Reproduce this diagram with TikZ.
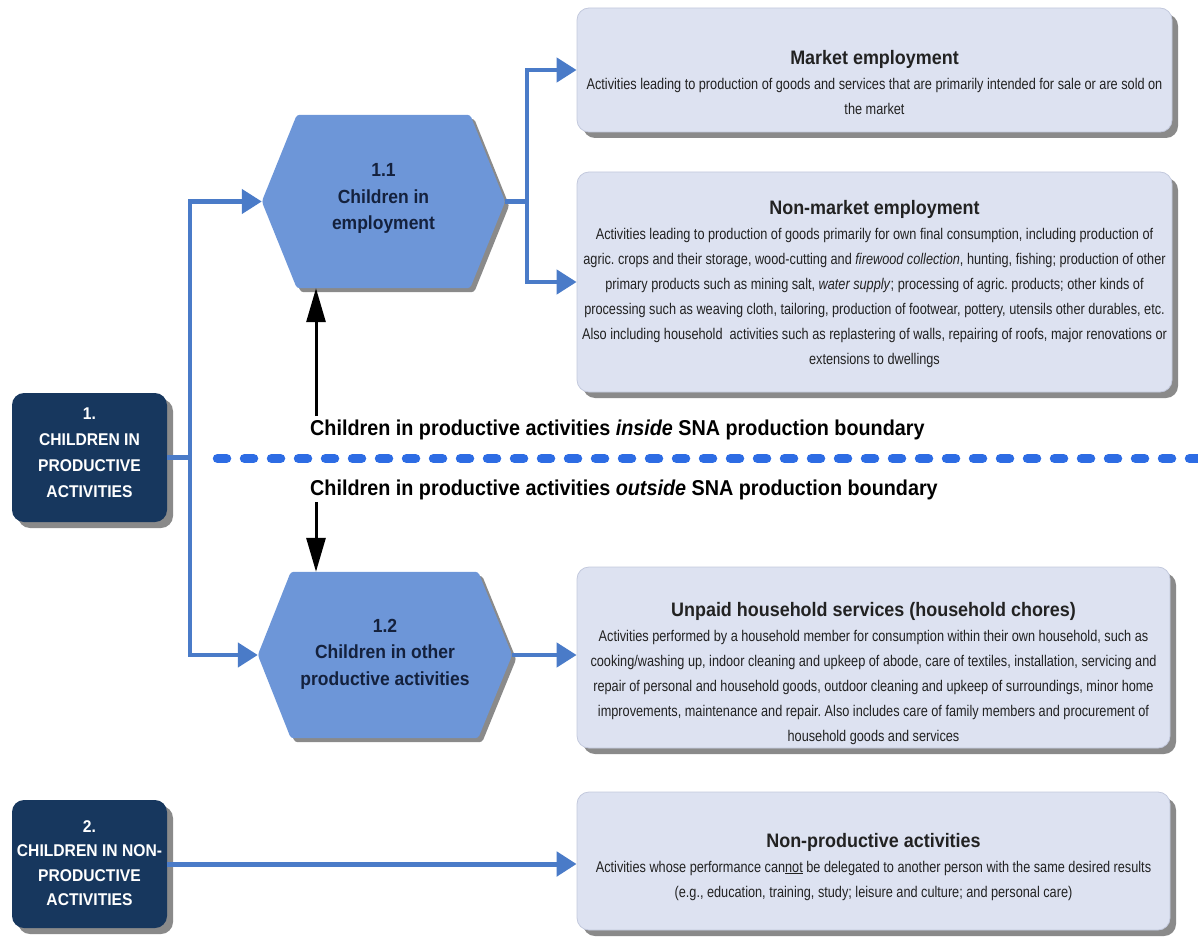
\documentclass[tikz,border=0pt]{standalone}
\usepackage{fontspec}
\setmainfont{Liberation Sans}
\newfontfamily\narrowf{Liberation Sans}[FakeStretch=0.82]
\newfontfamily\boldf{Liberation Sans}[FakeStretch=0.92]
\usetikzlibrary{arrows.meta,shadows,calc}
\frenchspacing
\definecolor{lightbox}{HTML}{DDE2F1}
\definecolor{lightedge}{HTML}{C3C9DD}
\definecolor{shadowgray}{HTML}{8A8A8A}
\definecolor{navybox}{HTML}{17375E}
\definecolor{hexblue}{HTML}{6D96D8}
\definecolor{arrowblue}{HTML}{4A7BC8}
\definecolor{dotblue}{HTML}{2D6CE4}
\definecolor{hextext}{HTML}{14213D}
\definecolor{bodytext}{HTML}{222222}
\newcommand{\boxtitle}[1]{{\boldf\bfseries\fontsize{19.5}{25}\selectfont #1}}
\begin{document}
\begin{tikzpicture}[x=1pt,y=-1pt,
  lbox/.style={rectangle, rounded corners=12pt, fill=lightbox, draw=lightedge, line width=0.8pt,
    drop shadow={shadow xshift=6pt,shadow yshift=-6pt,fill=shadowgray,opacity=1}, inner sep=0pt},
  dbox/.style={rectangle, rounded corners=12pt, fill=navybox,
    drop shadow={shadow xshift=6pt,shadow yshift=-6pt,fill=shadowgray,opacity=1},
    minimum width=155pt, text=white, align=center, inner sep=0pt,
    font=\boldf\bfseries\fontsize{17}{25.5}\selectfont},
  btext/.style={align=center, inner sep=0pt, text=bodytext, font=\narrowf\fontsize{15.5}{25}\selectfont},
  hexanchor/.style={rectangle, inner sep=0pt, draw=none},
  hexshape/.style={fill=hexblue, rounded corners=3pt,
    drop shadow={shadow xshift=4pt,shadow yshift=-4pt,fill=shadowgray,opacity=1}},
  hexlabel/.style={align=center, inner sep=0pt, text=hextext, font=\boldf\bfseries\fontsize{19}{26.5}\selectfont},
  boundlabel/.style={anchor=west, inner sep=0pt, text=black, font=\boldf\bfseries\fontsize{21.5}{25}\selectfont},
  bline/.style={draw=arrowblue, line width=4.5pt},
  barrow/.style={bline, -{Triangle[length=20pt,width=24pt]}},
  karrow/.style={draw=black, line width=3pt, -{Triangle[length=34pt,width=19pt]}},
  dotline/.style={draw=dotblue, line width=9.5pt, line cap=round, dash pattern=on 9pt off 18pt}
]
\useasboundingbox (0,0) rectangle (1198,941);

% light boxes
\node[lbox, minimum width=595pt, minimum height=124pt] (mk) at (874.5,70) {};
\node[lbox, minimum width=595pt, minimum height=220pt] (nm) at (874.5,282) {};
\node[lbox, minimum width=593pt, minimum height=181pt] (uh) at (873.5,657.5) {};
\node[lbox, minimum width=593pt, minimum height=138pt] (np) at (873.5,861) {};

\node[btext, anchor=north] (mkt) at (874.5,49.8) {\boxtitle{Market employment}\\
Activities leading to production of goods and services that are primarily intended for sale or are sold on\\
the market};

\node[btext, anchor=north] (nmt) at (874.5,199.8) {\boxtitle{Non-market employment}\\
Activities leading to production of goods primarily for own final consumption, including production of\\
agric. crops and their storage, wood-cutting and \textit{firewood collection}, hunting, fishing; production of other\\
primary products such as mining salt, \textit{water supply}; processing of agric. products; other kinds of\\
processing such as weaving cloth, tailoring, production of footwear, pottery, utensils other durables, etc.\\
Also including household\ \ activities such as replastering of walls, repairing of roofs, major renovations or\\
extensions to dwellings};

\node[btext, anchor=north] (uht) at (873.5,601.8) {\boxtitle{Unpaid household services (household chores)}\\
Activities performed by a household member for consumption within their own household, such as\\
cooking/washing up, indoor cleaning and upkeep of abode, care of textiles, installation, servicing and\\
repair of personal and household goods, outdoor cleaning and upkeep of surroundings, minor home\\
improvements, maintenance and repair. Also includes care of family members and procurement of\\
household goods and services};

\node[btext, anchor=north] (npt) at (873.5,832.8) {\boxtitle{Non-productive activities}\\
Activities whose performance can\underline{not} be delegated to another person with the same desired results\\
(e.g., education, training, study; leisure and culture; and personal care)};

% dark boxes
\node[dbox, minimum height=129pt] (n1) at (89.5,457.5) {};
\node[dbox, minimum height=128pt] (n2) at (89.5,864) {};
\node[align=center, inner sep=0pt, text=white, font=\boldf\bfseries\fontsize{17}{26}\selectfont] (n1t) at (89.5,453) {1.\\CHILDREN IN\\PRODUCTIVE\\ACTIVITIES};
\node[align=center, inner sep=0pt, text=white, font=\boldf\bfseries\fontsize{17}{24.5}\selectfont] (n2t) at (89.5,863) {2.\\CHILDREN IN NON-\\PRODUCTIVE\\ACTIVITIES};

% hexagons
\node[hexanchor, minimum width=243pt, minimum height=173pt] (hex11) at (383.5,201.5) {};
\path[hexshape] ($(hex11.north west)+(35,0)$) -- ($(hex11.north east)+(-35,0)$) -- (hex11.east)
  -- ($(hex11.south east)+(-35,0)$) -- ($(hex11.south west)+(35,0)$) -- (hex11.west) -- cycle;
\node[hexlabel] (hex11t) at (383.5,198.5) {1.1\\Children in\\employment};

\node[hexanchor, minimum width=254pt, minimum height=166pt] (hex12) at (385,655) {};
\path[hexshape] ($(hex12.north west)+(33,0)$) -- ($(hex12.north east)+(-34,0)$) -- (hex12.east)
  -- ($(hex12.south east)+(-34,0)$) -- ($(hex12.south west)+(33,0)$) -- (hex12.west) -- cycle;
\node[hexlabel] (hex12t) at (385,654) {1.2\\Children in other\\productive activities};

% boundary
\coordinate (dotstart) at (217.5,458.5);
\coordinate (dotend) at (1210,458.5);
\draw[dotline] (dotstart) -- (dotend);
\node[boundlabel] (inside) at (310,430) {Children in productive activities \textit{inside} SNA production boundary};
\node[boundlabel] (outside) at (310,490) {Children in productive activities \textit{outside} SNA production boundary};

% connectors
\coordinate (jA) at (190,201.5);
\coordinate (jB) at (190,655);
\coordinate (jC) at (527,201.5);
\draw[bline] (n1.east) -- (n1.east -| jA);
\draw[barrow] (n1.east -| jA) -- (jA) -- (hex11.west);
\draw[barrow] (n1.east -| jA) -- (jB) -- (hex12.west);
\draw[bline] (hex11.east) -- (jC);
\draw[barrow] (jC) |- (mk.west);
\draw[barrow] (jC) |- (nm.west);
\draw[barrow] (hex12.east) -- (hex12.east -| uh.west);
\draw[barrow, line width=5pt] (n2.east) -- (n2.east -| np.west);

\coordinate (k1) at (316,416);
\coordinate (k2) at (316,502);
\draw[karrow] (k1) -- (k1 |- hex11.south);
\draw[karrow] (k2) -- (k2 |- hex12.north);
\end{tikzpicture}
\end{document}
